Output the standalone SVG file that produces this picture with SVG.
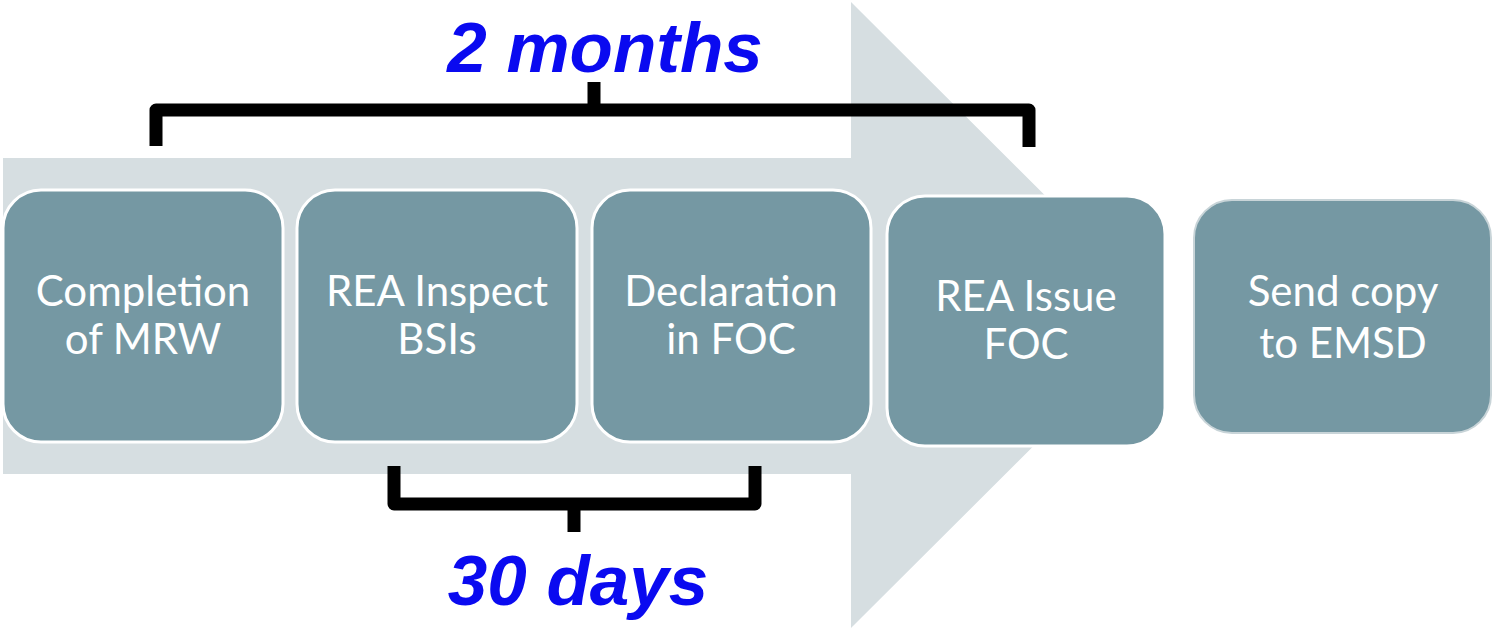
<svg xmlns="http://www.w3.org/2000/svg" width="1493" height="629" viewBox="0 0 1493 629">
<style>
.box{fill:#7598A3;stroke:#FFFFFF;stroke-width:3}
.lbl{fill:#FFFFFF;font-family:Lato,"Liberation Sans",sans-serif;font-size:42px;text-anchor:middle}
.br{fill:none;stroke:#000000;stroke-width:13;stroke-linejoin:round}
.dur{fill:#0A0AF0;font-family:"Liberation Sans",Arial,sans-serif;font-weight:bold;font-style:italic;font-size:71px;text-anchor:middle}
</style>
<rect width="1493" height="629" fill="#FFFFFF"/>
<g id="arrow">
<polygon points="3,158 851,158 851,2 1165,315 851,628 851,474 3,474" fill="#D6DEE1"/>
</g>
<g id="n1"><rect class="box" x="3" y="190" width="280" height="252" rx="38"/><text class="lbl" x="143" y="306">Completion</text><text class="lbl" x="143" y="354">of MRW</text></g>
<g id="n2"><rect class="box" x="297" y="190" width="280" height="252" rx="38"/><text class="lbl" x="437" y="306">REA Inspect</text><text class="lbl" x="437" y="354">BSIs</text></g>
<g id="n3"><rect class="box" x="592" y="190" width="279" height="252" rx="38"/><text class="lbl" x="731" y="306">Declaration</text><text class="lbl" x="731" y="354">in FOC</text></g>
<g id="n4"><rect class="box" x="887" y="196" width="278" height="250" rx="38"/><text class="lbl" x="1026" y="311">REA Issue</text><text class="lbl" x="1026" y="359">FOC</text></g>
<g id="n5"><rect class="box" x="1194" y="200" width="297" height="233" rx="38" style="stroke:#C8D4D8;stroke-width:2"/><text class="lbl" x="1343" y="306">Send copy</text><text class="lbl" x="1343" y="358">to EMSD</text></g>
<g id="connectors">
<path class="br" d="M156,146 V110 H1029 V147"/>
<path d="M594,110 V82" stroke="#000" stroke-width="13"/>
<path class="br" d="M394,466 V504 H755 V466"/>
<path d="M574,504 V532" stroke="#000" stroke-width="13"/>
</g>
<text class="dur" x="605" y="72">2 months</text>
<text class="dur" x="578" y="605">30 days</text>
</svg>
